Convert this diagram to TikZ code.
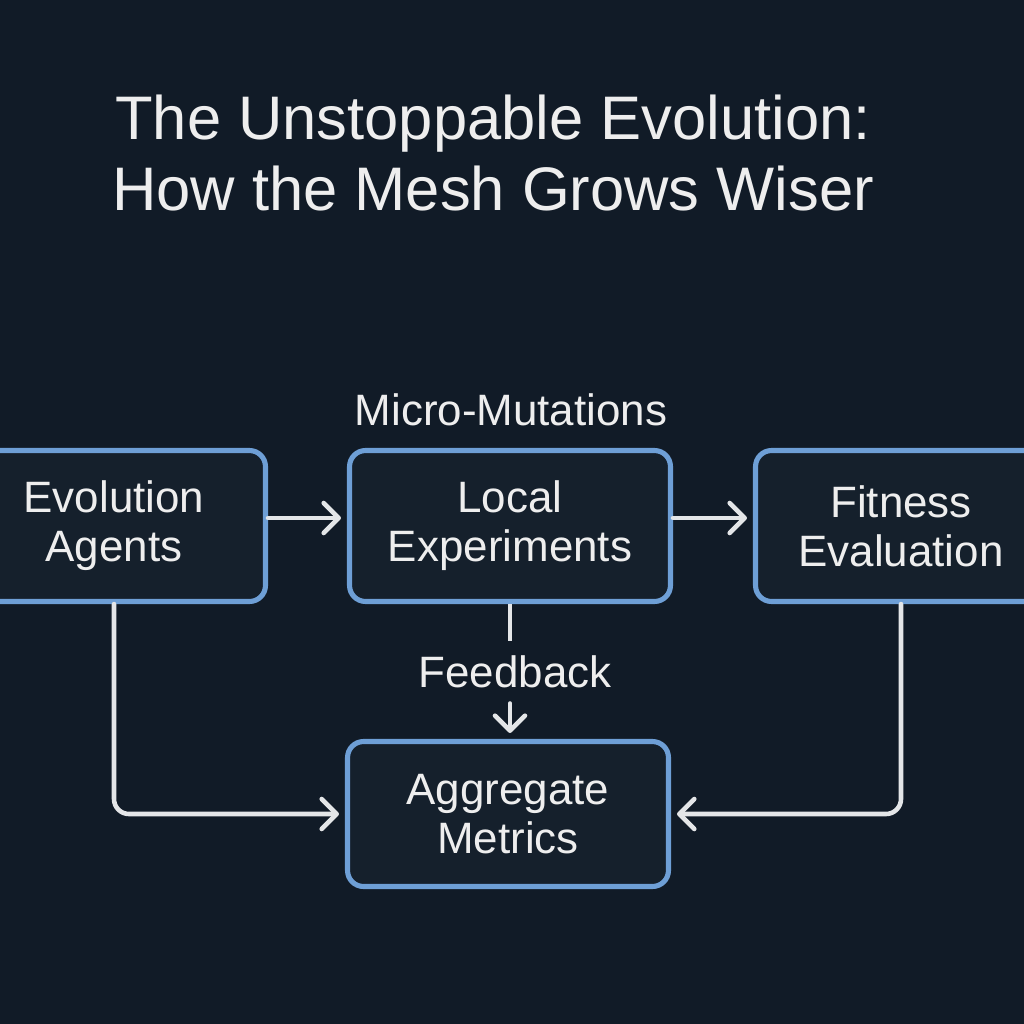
\documentclass[tikz,border=0pt]{standalone}
\usepackage{fontspec}
\setmainfont{Liberation Sans}
\setsansfont{Liberation Sans}
\usepackage{xcolor}
\usetikzlibrary{
    arrows.meta,
    positioning,
    calc
}
\definecolor{bgdark}{HTML}{111B27}
\definecolor{boxfill}{HTML}{15202C}
\definecolor{boxedge}{HTML}{6E9FD6}
\definecolor{linelight}{HTML}{E4E6E8}
\definecolor{textlight}{HTML}{EEEEEE}
\tikzset{
    % Stage box style
    stage/.style={
        rectangle,
        rounded corners=0.32cm,
        minimum height=3.02cm,
        align=center,
        font=\fontsize{25}{28}\selectfont\sffamily,
        text=textlight,
        draw=boxedge,
        fill=boxfill,
        line width=2.9pt
    },
    % Arrow styles
    flow/.style={
        -{Straight Barb[length=3mm, width=6mm, round]},
        line width=2.6pt,
        color=linelight,
        line cap=round,
        shorten >=0.12cm
    },
    link/.style={
        line width=2.6pt,
        color=linelight
    },
    % Label style
    label text/.style={
        font=\fontsize{25}{28}\selectfont\sffamily,
        text=textlight
    },
    % Section title style
    section title/.style={
        font=\fontsize{35}{40}\selectfont\sffamily,
        text=textlight,
        align=center
    }
}
\begin{document}
\begin{tikzpicture}[x=0.02cm, y=-0.02cm]

        % Background
        \useasboundingbox (0,0) rectangle (1024,1024);
        \clip (0,0) rectangle (1024,1024);
        \fill[bgdark] (0,0) rectangle (1024,1024);

        % Title
        \node[section title] (title) at (493, 153) {The Unstoppable Evolution:\\How the Mesh Grows Wiser};

        % Stages
        \node[stage, minimum width=6.06cm] (agents) at (114, 526) {Evolution\\Agents};
        \node[stage, minimum width=6.42cm] (local) at (510, 526) {Local\\Experiments};
        \node[stage, minimum width=5.82cm] (fitness) at (901, 526) {Fitness\\Evaluation};
        \node[stage, minimum width=6.42cm, minimum height=2.9cm] (metrics) at (508, 814) {Aggregate\\Metrics};

        % Labels
        \node[label text] (mutations) at (511, 410) {Micro-Mutations};
        \node[label text, inner ysep=0.3cm] (feedback) at (515, 672) {Feedback};

        % Connections
        \draw[flow] ([yshift=0.16cm]agents.east) -- ([yshift=0.16cm]local.west);
        \draw[flow] ([yshift=0.16cm]local.east) -- ([yshift=0.16cm]fitness.west);

        \draw[link] (local.south) -- (local.south |- feedback.north);
        \draw[flow] (local.south |- feedback.south) -- (metrics.north -| local.south);

        \draw[flow, rounded corners=0.3cm] (agents.south) |- (metrics.west);
        \draw[flow, rounded corners=0.3cm] (fitness.south) |- (metrics.east);

    \end{tikzpicture}
\end{document}
